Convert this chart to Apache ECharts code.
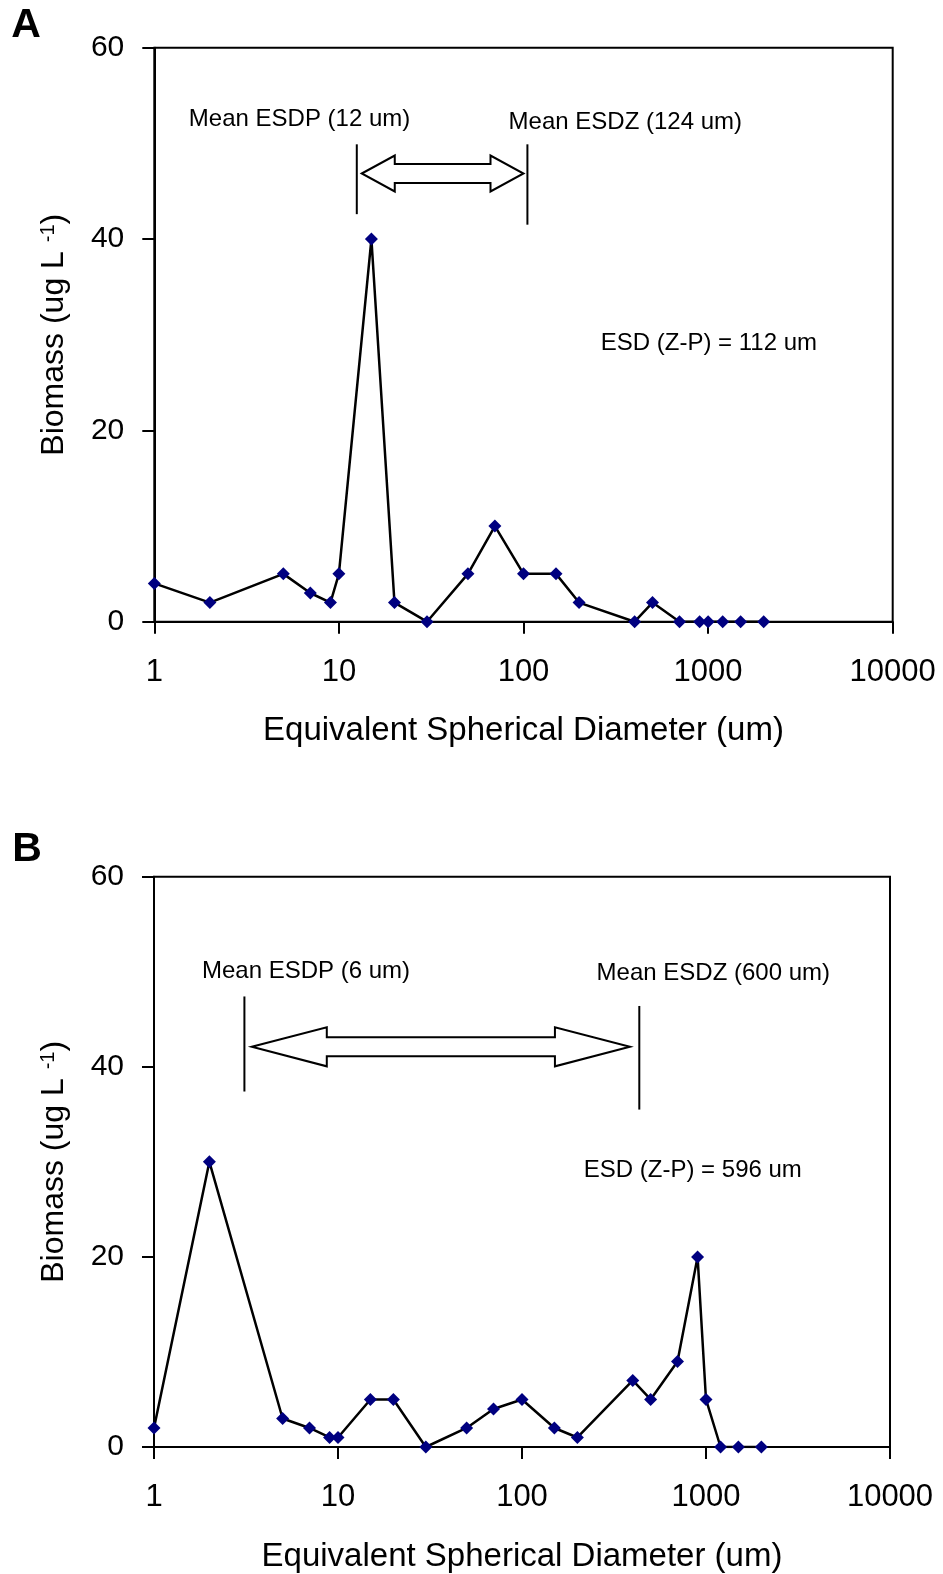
<!DOCTYPE html>
<html><head><meta charset="utf-8">
<script src="https://cdn.jsdelivr.net/npm/echarts@6/dist/echarts.min.js"></script>
<style>html,body{margin:0;padding:0;background:#fff}#c{width:943px;height:1574px}</style>
</head><body><div id="c"></div>
<script>
// ---- data ----
const diameters = [1,2,5,7,9,10,15,20,30,50,70,100,150,200,400,500,700,900,1000,1200,1500,2000];
const biomassA  = [4,2,5,3,2,5,40,2,0,5,10,5,5,2,0,2,0,0,0,0,0,0];
const biomassB  = [2,30,3,2,1,1,5,5,0,2,4,5,2,1,7,5,9,20,5,0,0,0];
const xTickValues = [1,10,100,1000,10000];
const yTickValues = [0,20,40,60];
const panelLabels = ['A','B'];
const xTitle = 'Equivalent Spherical Diameter (um)';
const yTitle = 'Biomass (ug L {sup|-1})';
const meanPLabels = ['Mean ESDP (12 um)', 'Mean ESDP (6 um)'];
const meanZLabels = ['Mean ESDZ (124 um)', 'Mean ESDZ (600 um)'];
const diffLabels  = ['ESD (Z-P) = 112 um', 'ESD (Z-P) = 596 um'];
// annotation anchors (data units)
const meanPX = [12.5, 3.1];
const meanZX = [105, 434];
const pLineY = [[42.6,49.9],[37.4,47.4]];
const zLineY = [[41.5,49.9],[35.5,46.4]];
const arrowTipX = [[13.3,100],[3.4,386]];
const arrowY = [46.85, 42.1];
const meanPLabelPos = [[6.12,52.55],[6.7,50.04]];
const meanZLabelPos = [[356,52.2],[1096,49.87]];
const diffLabelPos  = [[1010,29.05],[848,29.14]];

// ---- style ----
const FONT = '"Liberation Sans", Arial, sans-serif';
const headLen = [33, 75];
const headHalf = [18, 19.5];
const shaftHalf = 9.5;
const grids = [
  {left:154.3, top:47.7, width:738.4, height:574},
  {left:154, top:876.7, width:736, height:571.6}
];

const chart = echarts.init(document.getElementById('c'), null, {renderer:'canvas'});

function xAxisFor(i){
  return {
    type:'log', logBase:10, gridIndex:i, min:xTickValues[0], max:xTickValues[xTickValues.length-1],
    axisLine:{show:true, onZero:false, lineStyle:{color:'#000', width:2}},
    axisTick:{show:true, length:12, lineStyle:{color:'#000', width:2}},
    axisLabel:{color:'#000', fontSize:31, fontFamily:FONT, margin:35,
      formatter:v=>String(Math.round(v))},
    splitLine:{show:false}, minorTick:{show:false},
    name:xTitle, nameLocation:'middle', nameGap:93,
    nameTextStyle:{color:'#000', fontSize:33, fontFamily:FONT}
  };
}
function yAxisFor(i){
  return {
    type:'value', gridIndex:i, min:yTickValues[0], max:yTickValues[yTickValues.length-1],
    interval:yTickValues[1]-yTickValues[0],
    axisLine:{show:true, lineStyle:{color:'#000', width:2}},
    axisTick:{show:true, length:12, lineStyle:{color:'#000', width:2}},
    axisLabel:{color:'#000', fontSize:30, fontFamily:FONT, margin:30},
    splitLine:{show:false},
    name:yTitle, nameLocation:'middle', nameGap:84,
    nameTextStyle:{color:'#000', fontSize:32, fontFamily:FONT,
      rich:{sup:{fontSize:20, fontFamily:FONT, color:'#000', verticalAlign:'top', lineHeight:20}}}
  };
}
function seriesFor(i, vals){
  return {
    type:'line', xAxisIndex:i, yAxisIndex:i,
    data:diameters.map((d,k)=>[d, vals[k]]),
    symbol:'diamond', symbolSize:[13,13], showAllSymbol:true,
    itemStyle:{color:'#000080'},
    lineStyle:{color:'#000', width:2.5},
    emphasis:{disabled:true}
  };
}

chart.setOption({
  animation:false,
  backgroundColor:'#fff',
  grid:grids.map(g=>Object.assign({show:true, borderColor:'#000', borderWidth:2, backgroundColor:'transparent', containLabel:false}, g)),
  xAxis:[xAxisFor(0), xAxisFor(1)],
  yAxis:[yAxisFor(0), yAxisFor(1)],
  series:[seriesFor(0, biomassA), seriesFor(1, biomassB)]
});

// ---- annotations ----
const graphics = [];
function px(i, pt){ return chart.convertToPixel({xAxisIndex:i, yAxisIndex:i}, pt); }
function txt(x, y, text, size, bold){
  return {type:'text', x:x, y:y, silent:true, z:100,
    style:{text:text, fontSize:size, fontFamily:FONT, fontWeight:bold?'bold':'normal', fill:'#000', align:'center', verticalAlign:'middle'}};
}
for (let i=0;i<2;i++){
  const a = px(i,[meanPX[i], pLineY[i][0]]), b = px(i,[meanPX[i], pLineY[i][1]]);
  graphics.push({type:'line', shape:{x1:a[0],y1:a[1],x2:b[0],y2:b[1]}, style:{stroke:'#000', lineWidth:2}, z:100});
  const c = px(i,[meanZX[i], zLineY[i][0]]), d = px(i,[meanZX[i], zLineY[i][1]]);
  graphics.push({type:'line', shape:{x1:c[0],y1:c[1],x2:d[0],y2:d[1]}, style:{stroke:'#000', lineWidth:2}, z:100});
  const L = px(i,[arrowTipX[i][0], arrowY[i]]), R = px(i,[arrowTipX[i][1], arrowY[i]]);
  const cy = L[1], h = headLen[i], H = headHalf[i], s = shaftHalf;
  const pts = [[L[0],cy],[L[0]+h,cy-H],[L[0]+h,cy-s],[R[0]-h,cy-s],[R[0]-h,cy-H],[R[0],cy],
               [R[0]-h,cy+H],[R[0]-h,cy+s],[L[0]+h,cy+s],[L[0]+h,cy+H]];
  graphics.push({type:'polygon', shape:{points:pts}, style:{fill:'#fff', stroke:'#000', lineWidth:2}, z:100});
  let p = px(i, meanPLabelPos[i]); graphics.push(txt(p[0], p[1], meanPLabels[i], 24));
  p = px(i, meanZLabelPos[i]); graphics.push(txt(p[0], p[1], meanZLabels[i], 24));
  p = px(i, diffLabelPos[i]); graphics.push(txt(p[0], p[1], diffLabels[i], 24));
}
graphics.push(txt(26, 26, panelLabels[0], 41, true));
graphics.push(txt(27, 850, panelLabels[1], 41, true));
chart.setOption({graphic:graphics});
</script>
</body></html>
